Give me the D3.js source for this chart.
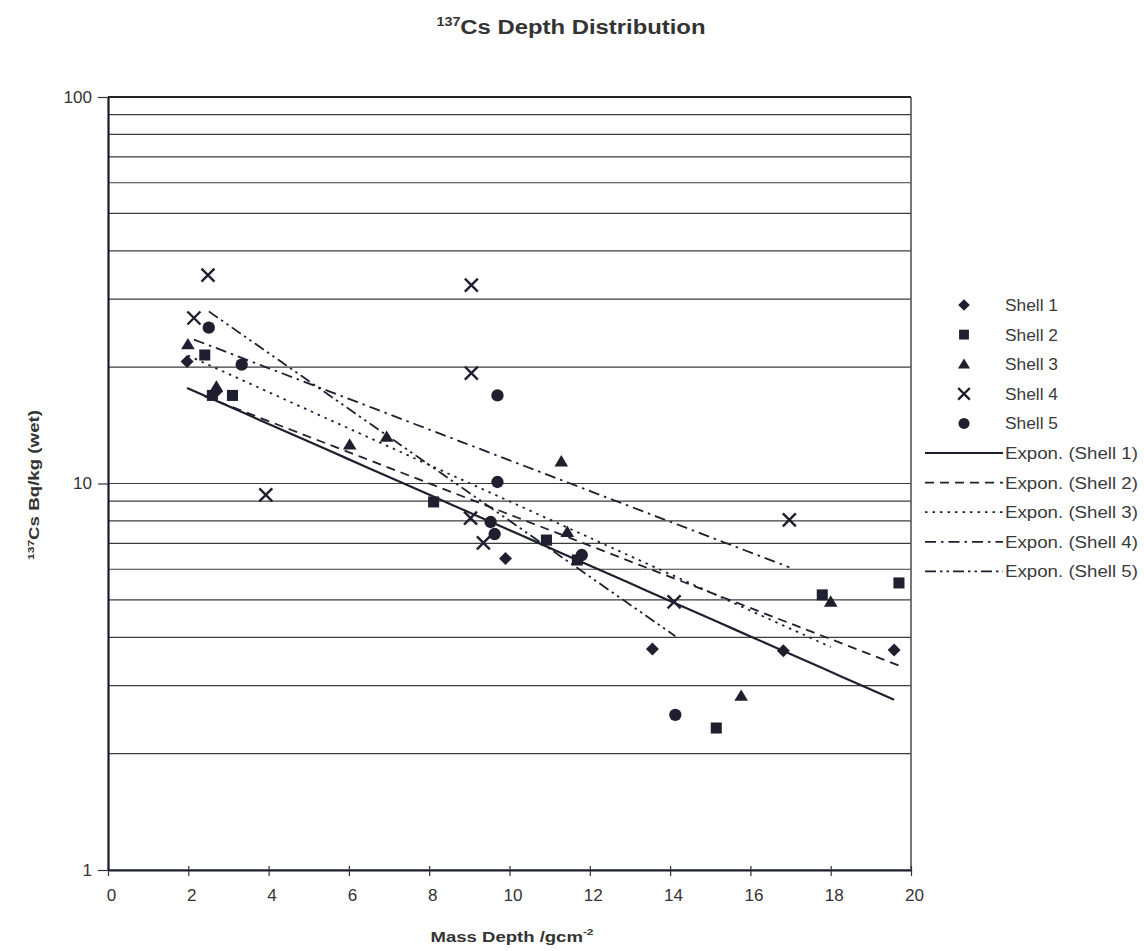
<!DOCTYPE html>
<html>
<head>
<meta charset="utf-8">
<script src="https://cdn.jsdelivr.net/npm/d3@7"></script>
<style>
  html, body { margin: 0; padding: 0; background: #fff; }
  svg { display: block; font-family: "Liberation Sans", Arial, sans-serif; }
</style>
</head>
<body>
<svg id="chart" width="1144" height="951"></svg>
<script>
// ---------- data ----------
const seriesNames = ["Shell 1", "Shell 2", "Shell 3", "Shell 4", "Shell 5"];
const shell1X = [1.97, 2.7, 9.9, 13.56, 16.82, 19.58];
const shell1Y = [20.7, 17.3, 6.4, 3.73, 3.69, 3.71];
const shell2X = [2.41, 2.6, 3.1, 8.11, 10.92, 11.69, 15.15, 17.79, 19.7];
const shell2Y = [21.5, 16.9, 16.9, 8.96, 7.14, 6.34, 2.33, 5.15, 5.53];
const shell3X = [1.99, 2.7, 6.02, 6.94, 11.29, 11.44, 15.77, 18.0];
const shell3Y = [22.9, 17.8, 12.6, 13.2, 11.4, 7.49, 2.82, 4.94];
const shell4X = [2.14, 2.49, 3.93, 9.03, 9.05, 9.05, 9.35, 14.1, 16.97];
const shell4Y = [26.8, 34.6, 9.34, 8.14, 32.6, 19.3, 7.02, 4.94, 8.05];
const shell5X = [2.51, 3.33, 9.53, 9.63, 9.7, 9.7, 11.8, 14.13];
const shell5Y = [25.3, 20.3, 7.95, 7.4, 10.09, 16.9, 6.53, 2.52];
const xTickValues = [0, 2, 4, 6, 8, 10, 12, 14, 16, 18, 20];
const yTickLabels = [1, 10, 100];
const trendLabels = ["Expon. (Shell 1)", "Expon. (Shell 2)", "Expon. (Shell 3)", "Expon. (Shell 4)", "Expon. (Shell 5)"];

const allX = [shell1X, shell2X, shell3X, shell4X, shell5X];
const allY = [shell1Y, shell2Y, shell3Y, shell4Y, shell5Y];
const series = seriesNames.map((name, i) => ({
  name,
  points: allX[i].map((x, j) => ({ x, y: allY[i][j] }))
}));

// ---------- layout ----------
const svg = d3.select("#chart");
const L = 108, R = 911, T = 97, B = 870;
const ink = "#1f1f30";
const x = d3.scaleLinear().domain([0, 20]).range([L, R]);
const y = d3.scaleLog().domain([1, 100]).range([B, T]);

// helper: stretch text to a given length
function fit(sel, len) {
  sel.attr("textLength", len).attr("lengthAdjust", "spacingAndGlyphs");
  return sel;
}

// gridlines
svg.append("g").selectAll("line")
  .data(y.ticks())
  .join("line")
  .attr("x1", L).attr("x2", R)
  .attr("y1", d => y(d)).attr("y2", d => y(d))
  .attr("stroke", "#3c3c3c")
  .attr("stroke-width", 1.2);

// plot border
svg.append("line").attr("x1", L).attr("x2", R).attr("y1", T).attr("y2", T)
  .attr("stroke", "#222").attr("stroke-width", 2);
svg.append("line").attr("x1", R).attr("x2", R).attr("y1", T).attr("y2", B)
  .attr("stroke", "#555").attr("stroke-width", 1.6);

// x axis
const xAxis = d3.axisBottom(x).tickValues(xTickValues).tickSize(6).tickSizeOuter(0).tickPadding(14);
const gx = svg.append("g").attr("transform", `translate(0,${B})`).call(xAxis);
gx.select(".domain").attr("stroke", "#1a1a2a").attr("stroke-width", 2.2);
gx.selectAll(".tick line").attr("stroke", "#333").attr("stroke-width", 1.2).attr("y1", -4);
gx.selectAll(".tick text")
  .attr("font-size", 16).attr("fill", "#333").attr("dx", 3)
  .attr("font-family", "'Liberation Sans', Arial, sans-serif")
  .each(function(d) { fit(d3.select(this), String(d).length * 9.5); });

// y axis
const yAxis = d3.axisLeft(y).tickValues(yTickLabels).tickFormat(d3.format("d")).tickSize(10).tickSizeOuter(0).tickPadding(6);
const gy = svg.append("g").attr("transform", `translate(${L},0)`).call(yAxis);
gy.select(".domain").attr("stroke", "#1a1a2a").attr("stroke-width", 2.2);
gy.selectAll(".tick line").attr("stroke", "#333").attr("stroke-width", 1.2);
gy.selectAll(".tick text")
  .attr("font-size", 16).attr("fill", "#333")
  .attr("font-family", "'Liberation Sans', Arial, sans-serif")
  .each(function(d) { fit(d3.select(this), String(d).length * 9.5); });

// ---------- markers ----------
function markerPath(i, s) {
  const p = d3.path();
  if (i === 0) { // diamond
    p.moveTo(0, -s); p.lineTo(s, 0); p.lineTo(0, s); p.lineTo(-s, 0); p.closePath();
  } else if (i === 1) { // square
    const h = s * 0.85;
    p.rect(-h, -h, 2 * h, 2 * h);
  } else if (i === 2) { // triangle
    p.moveTo(0, -s); p.lineTo(s * 1.05, s * 0.75); p.lineTo(-s * 1.05, s * 0.75); p.closePath();
  } else if (i === 3) { // x
    p.moveTo(-s, -s); p.lineTo(s, s); p.moveTo(s, -s); p.lineTo(-s, s);
  } else { // circle
    p.arc(0, 0, s * 0.95, 0, 2 * Math.PI);
  }
  return p.toString();
}
function drawMarker(g, i, cx, cy, s) {
  const el = g.append("path")
    .attr("d", markerPath(i, s))
    .attr("transform", `translate(${cx},${cy})`);
  if (i === 3) el.attr("fill", "none").attr("stroke", ink).attr("stroke-width", 2.4);
  else el.attr("fill", ink);
}

// ---------- exponential trendlines (least squares on ln y) ----------
function expFit(pts) {
  const mx = d3.mean(pts, p => p.x);
  const my = d3.mean(pts, p => Math.log(p.y));
  let sxy = 0, sxx = 0;
  pts.forEach(p => { sxy += (p.x - mx) * (Math.log(p.y) - my); sxx += (p.x - mx) ** 2; });
  const b = sxy / sxx;
  const a = Math.exp(my - b * mx);
  return { a, b, x0: d3.min(pts, p => p.x), x1: d3.max(pts, p => p.x) };
}
const dashes = [null, "9,6", "2.5,5", "11,5,2.5,5", "11,4,2.5,4,2.5,4"];
const widths = [2.2, 1.8, 1.8, 1.8, 1.8];
const lineGen = d3.line().x(d => x(d.x)).y(d => y(d.y));

const gMarks = svg.append("g");
series.forEach((s, i) => {
  s.points.forEach(p => drawMarker(gMarks, i, x(p.x), y(p.y), 6.5));
});

const gTrend = svg.append("g");
series.forEach((s, i) => {
  const f = expFit(s.points);
  const xs = d3.range(0, 41).map(k => f.x0 + (f.x1 - f.x0) * k / 40);
  const pts = xs.map(v => ({ x: v, y: f.a * Math.exp(f.b * v) }));
  gTrend.append("path")
    .attr("d", lineGen(pts))
    .attr("fill", "none")
    .attr("stroke", ink)
    .attr("stroke-width", widths[i])
    .attr("stroke-dasharray", dashes[i]);
});

// ---------- legend ----------
const legY0 = 305, legStep = 29.6;
const gLeg = svg.append("g");
seriesNames.forEach((name, i) => {
  const cy = legY0 + i * legStep;
  drawMarker(gLeg, i, 964, cy, 5.8);
  fit(gLeg.append("text").attr("x", 1005).attr("y", cy + 6)
    .attr("font-size", 16).attr("fill", "#3a3a3a").text(name), 53);
});
trendLabels.forEach((name, i) => {
  const cy = legY0 + (i + 5) * legStep;
  gLeg.append("line").attr("x1", 925).attr("x2", 1003).attr("y1", cy).attr("y2", cy)
    .attr("stroke", ink).attr("stroke-width", widths[i]).attr("stroke-dasharray", dashes[i]);
  fit(gLeg.append("text").attr("x", 1005).attr("y", cy + 6)
    .attr("font-size", 16).attr("fill", "#3a3a3a").text(name), 133);
});

// ---------- titles ----------
const title = svg.append("text").attr("x", 571).attr("y", 34)
  .attr("text-anchor", "middle").attr("font-weight", "bold").attr("fill", "#333");
title.append("tspan").attr("font-size", 12).attr("dy", -8).text("137");
title.append("tspan").attr("font-size", 20).attr("dy", 8).text("Cs Depth Distribution");
fit(title, 269);

const ylab = svg.append("text")
  .attr("transform", "translate(39,485) rotate(-90)")
  .attr("text-anchor", "middle").attr("font-weight", "bold").attr("fill", "#333");
ylab.append("tspan").attr("font-size", 9).attr("dy", -5).text("137");
ylab.append("tspan").attr("font-size", 14).attr("dy", 5).text("Cs Bq/kg (wet)");
fit(ylab, 150);

const xlab = svg.append("text").attr("x", 512).attr("y", 942)
  .attr("text-anchor", "middle").attr("font-weight", "bold").attr("fill", "#333");
xlab.append("tspan").attr("font-size", 14).text("Mass Depth /gcm");
xlab.append("tspan").attr("font-size", 9).attr("dy", -7).text("-2");
fit(xlab, 163);
</script>
</body>
</html>
